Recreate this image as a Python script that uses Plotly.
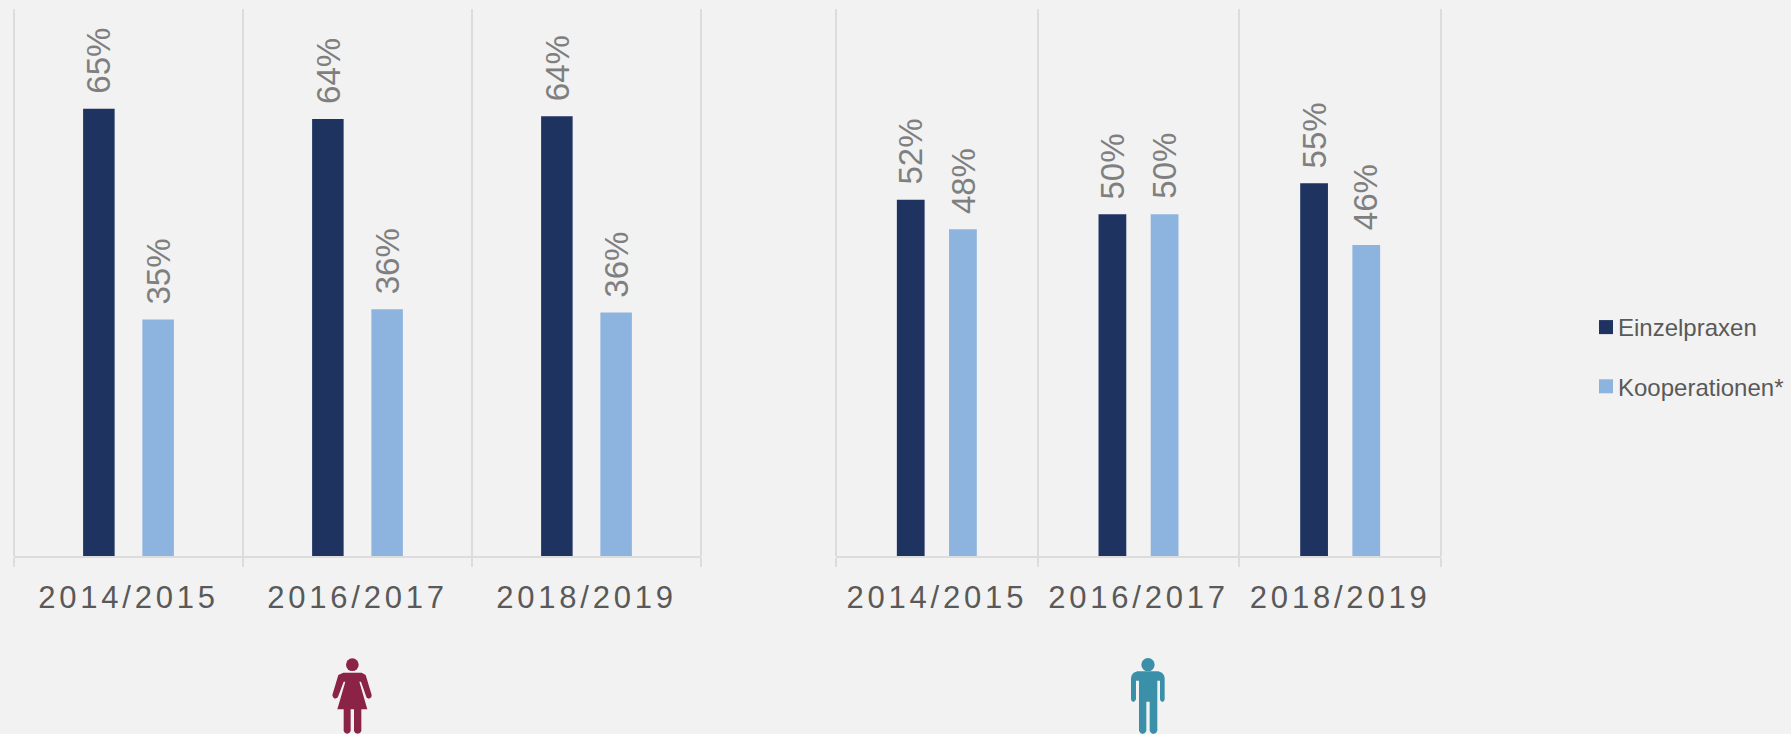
import plotly.graph_objects as go

W, H = 1791, 734
years = ["2014/2015", "2016/2017", "2018/2019"]
women_einzel = [65.4, 63.9, 64.3]
women_koop = [34.6, 36.1, 35.6]
men_einzel = [52.1, 50.0, 54.5]
men_koop = [47.8, 50.0, 45.5]
women_einzel_labels = ["65%", "64%", "64%"]
women_koop_labels = ["35%", "36%", "36%"]
men_einzel_labels = ["52%", "50%", "55%"]
men_koop_labels = ["48%", "50%", "46%"]
series_names = ["Einzelpraxen", "Kooperationen*"]

NAVY, LIGHT = "#1F3360", "#8DB4DE"
GRID = "#DCDCDC"
BG = "#F2F2F2"
BARGAP, GROUPGAP = 0.4825, 0.468

fig = go.Figure()
for name, color, vals, xa, show in [
    (series_names[0], NAVY, women_einzel, "x", True),
    (series_names[1], LIGHT, women_koop, "x", True),
    (series_names[0], NAVY, men_einzel, "x2", False),
    (series_names[1], LIGHT, men_koop, "x2", False),
]:
    fig.add_trace(go.Bar(x=years, y=vals, name=name, xaxis=xa, yaxis="y",
                         marker=dict(color=color, line=dict(width=0)),
                         legendgroup=name, showlegend=show,
                         offsetgroup=name, hoverinfo="skip"))

annos = []
slot = (1 - BARGAP) / 4
for xa, vals, labels, side in [
    ("x", women_einzel, women_einzel_labels, -1),
    ("x", women_koop, women_koop_labels, 1),
    ("x2", men_einzel, men_einzel_labels, -1),
    ("x2", men_koop, men_koop_labels, 1),
]:
    for i, (v, t) in enumerate(zip(vals, labels)):
        annos.append(dict(x=i + side * slot, y=v, xref=xa, yref="y", text=t,
                          showarrow=False, textangle=-90, yanchor="bottom", xanchor="center",
                          yshift=13, font=dict(family="Liberation Sans", size=33, color="#7F7F7F")))


def fx(p):
    return p / W


def fy(p):
    return 1 - p / H


def icon_path(points, ox, oy):
    d = []
    for i, (x, y) in enumerate(points):
        d.append(("M" if i == 0 else "L") + f"{fx(ox + x / 3):.5f},{fy(oy + y / 3):.5f}")
    return " ".join(d) + " Z"


WOMAN = [(130, 68), (185, 68), (197, 75), (215, 135), (214, 142), (207, 146), (200, 143), (198, 138), (183, 95),
         (178, 95), (202, 178), (184, 178), (184, 243), (180, 249), (172, 251), (166, 249), (162, 243), (162, 178),
         (152, 178), (152, 243), (148, 249), (141, 251), (135, 249), (131, 243), (131, 178), (112, 178), (136, 95),
         (131, 95), (115, 138), (112, 143), (105, 146), (99, 142), (97, 135), (115, 75)]
MAN = [(112, 64), (175, 64), (186, 68), (192, 76), (194, 85), (194, 148), (192, 153), (187, 156), (182, 153), (180, 148),
       (180, 92), (172, 92), (172, 242), (168, 249), (160, 252), (153, 249), (149, 242), (149, 155), (139, 155), (139, 242),
       (135, 249), (128, 252), (121, 249), (117, 242), (117, 92), (108, 92), (108, 148), (105, 153), (100, 156), (95, 153),
       (93, 148), (93, 85), (95, 76), (101, 68)]

PLOT_TOP, PLOT_BOTTOM = 9, 556

shapes = []
for pts, ox, oy, col, hc, hr in [(WOMAN, 300, 650, "#8B2346", (157, 44), 19), (MAN, 1100, 650, "#3A90A9", (144, 44), 20)]:
    shapes.append(dict(type="path", xref="paper", yref="paper", path=icon_path(pts, ox, oy),
                       fillcolor=col, line=dict(width=0)))
    shapes.append(dict(type="circle", xref="paper", yref="paper",
                       x0=fx(ox + (hc[0] - hr) / 3), x1=fx(ox + (hc[0] + hr) / 3),
                       y0=fy(oy + (hc[1] + hr) / 3), y1=fy(oy + (hc[1] - hr) / 3),
                       fillcolor=col, line=dict(width=0)))
# full-height separators at both ends of each panel (the axis grid skips its end boundaries)
for xr in ["x domain", "x2 domain"]:
    for e in [0, 1]:
        shapes.append(dict(type="line", xref=xr, x0=e, x1=e, yref="paper", y0=fy(PLOT_BOTTOM), y1=fy(PLOT_TOP),
                           line=dict(color=GRID, width=2), layer="below"))

axis = dict(type="category", range=[-0.5, 2.5], tickson="boundaries", showgrid=True, gridcolor=GRID, gridwidth=2,
            showline=True, linecolor=GRID, linewidth=2, ticks="outside", ticklen=9, tickwidth=2, tickcolor=GRID,
            tickfont=dict(family="Liberation Sans", size=31, color="#595959"), ticklabelstandoff=13, zeroline=False,
            fixedrange=True)

fig.update_layout(
    width=W, height=H, autosize=False, margin=dict(l=0, r=0, t=0, b=0),
    paper_bgcolor=BG, plot_bgcolor=BG,
    barmode="group", bargap=BARGAP, bargroupgap=GROUPGAP,
    xaxis=dict(axis, domain=[fx(14), fx(701)], anchor="y"),
    xaxis2=dict(axis, domain=[fx(836), fx(1441)], anchor="y"),
    yaxis=dict(domain=[fy(PLOT_BOTTOM), fy(PLOT_TOP)], range=[0, 80], visible=False, fixedrange=True),
    legend=dict(x=fx(1578), y=fy(305), xanchor="left", yanchor="top", traceorder="grouped", tracegroupgap=25,
                bgcolor="rgba(0,0,0,0)", font=dict(family="Liberation Sans", size=24, color="#595959"),
                itemclick=False, itemdoubleclick=False),
    annotations=annos, shapes=shapes, showlegend=True,
)

css = ("body{margin:0;background:#F2F2F2}"
       ".xtick text,.x2tick text{letter-spacing:3.8px}"
       ".legend .legendsymbols{transform:translate(8px,0)}"
       ".legend .legendpoints path{transform:translate(20px,0) scale(1.17)}")
fig.write_html("out.html", config={"displayModeBar": False},
               post_script="var s=document.createElement('style');s.textContent='" + css + "';document.head.appendChild(s);")
